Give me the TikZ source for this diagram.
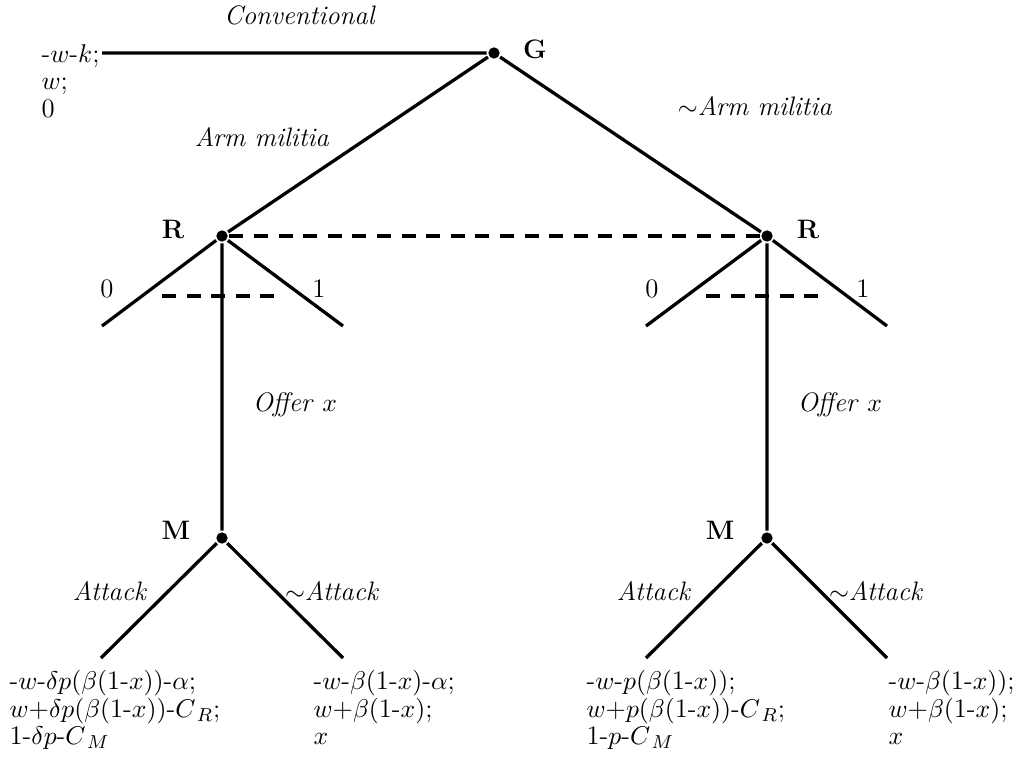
\documentclass[tikz,border=0pt]{standalone}
\begin{document}
\begin{tikzpicture}[x=0.015cm, y=-0.015cm, line width=1.4pt,
  every node/.style={inner sep=0pt,font=\fontsize{11.4}{11.7}\selectfont},
  dot/.style={circle,fill,inner sep=0pt,minimum size=1.7mm},
  info/.style={dash pattern=on 6pt off 4.5pt},
  pay/.style={align=left,anchor=north west}]
\useasboundingbox (0,0) rectangle (1021,757);
\node[dot] (G) at (494,53) {};
\node[dot] (R1) at (222,236) {};
\node[dot] (R2) at (767,236) {};
\node[dot] (M1) at (222,538) {};
\node[dot] (M2) at (767,538) {};
\node (gG) at (535,49) {\textbf{G}};
\node (gR1) at (173,229) {\textbf{R}};
\node (gR2) at (808,229) {\textbf{R}};
\node (gM1) at (176,530) {\textbf{M}};
\node (gM2) at (720,530) {\textbf{M}};
\coordinate (c) at (102,53);
\coordinate (r1a) at (102,326);
\coordinate (r1b) at (343,326);
\coordinate (r2a) at (646,326);
\coordinate (r2b) at (887,326);
\coordinate (m1a) at (101,658);
\coordinate (m1b) at (343,658);
\coordinate (m2a) at (646,658);
\coordinate (m2b) at (887,658);
\coordinate (s1a) at (162,296);
\coordinate (s1b) at (284,296);
\coordinate (s2a) at (706,296);
\coordinate (s2b) at (828,296);
\draw (G)--(c) (G)--(R1) (G)--(R2);
\draw (R1)--(r1a) (R1)--(r1b) (R1)--(M1);
\draw (R2)--(r2a) (R2)--(r2b) (R2)--(M2);
\draw (M1)--(m1a) (M1)--(m1b) (M2)--(m2a) (M2)--(m2b);
\draw[info] (R1)--(R2) (s1a)--(s1b) (s2a)--(s2b);
% branch labels
\node (conv) at (300,15) {\textit{Conventional}};
\node (arm) at (262,137) {\textit{Arm militia}};
\node (narm) at (755,106) {$\sim$\textit{Arm militia}};
\node (z1) at (107,289) {0};
\node (o1) at (319,289) {1};
\node (z2) at (652,289) {0};
\node (o2) at (863,289) {1};
\node (off1) at (295,405) {\textit{Offer} $x$};
\node (off2) at (840,405) {\textit{Offer} $x$};
\node (at1) at (110,591) {\textit{Attack}};
\node (na1) at (332,591) {$\sim$\textit{Attack}};
\node (at2) at (654,591) {\textit{Attack}};
\node (na2) at (876,591) {$\sim$\textit{Attack}};
% payoffs
\node[pay] (pc) at (40,43) {-$w$-$k$;\\$w$;\\0};
\node[pay] (p1) at (8,669) {-$w$-$\delta p(\beta($1-$x))$-$\alpha$;\\ $w$+$\delta p(\beta($1-$x))$-$C_{\,R}$;\\1-$\delta p$-$C_{\,M}$};
\node[pay] (p2) at (312,669) {-$w$-$\beta($1-$x)$-$\alpha$;\\ $w$+$\beta($1-$x)$;\\ $x$};
\node[pay] (p3) at (585,669) {-$w$-$p(\beta($1-$x))$;\\ $w$+$p(\beta($1-$x))$-$C_{\,R}$;\\1-$p$-$C_{\,M}$};
\node[pay] (p4) at (887,669) {-$w$-$\beta($1-$x))$;\\ $w$+$\beta($1-$x)$;\\ $x$};
\end{tikzpicture}
\end{document}
